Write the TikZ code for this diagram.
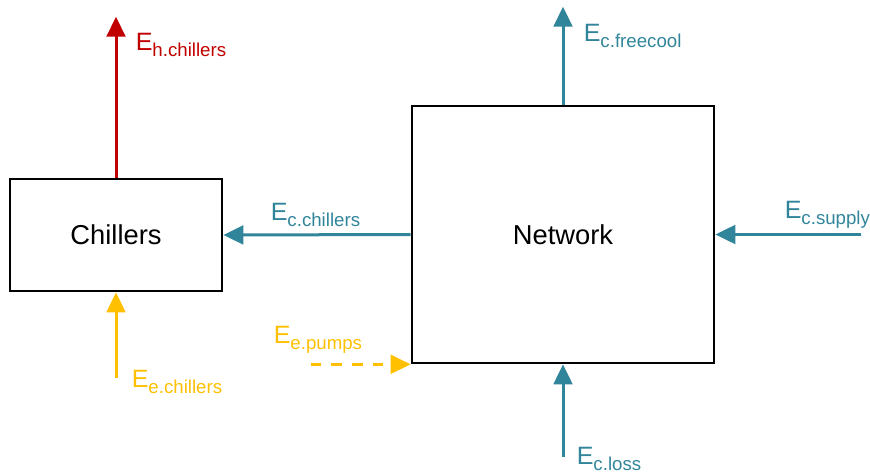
\documentclass[tikz,border=0pt]{standalone}
\usepackage{fontspec}
\setmainfont{Liberation Sans}
\usetikzlibrary{arrows.meta,positioning}
\definecolor{heat}{RGB}{192,0,0}
\definecolor{cool}{RGB}{49,133,155}
\definecolor{power}{RGB}{255,192,0}
% energy flow symbol with a lowered, smaller index
\newcommand{\flux}[1]{E\raisebox{-5pt}{\fontsize{14}{16}\selectfont #1}}
\tikzset{
  >={Triangle[length=15pt,width=14pt]},
  unit/.style={draw=black,line width=2pt,minimum width=159pt,minimum height=84pt,
    font=\fontsize{20.5}{24}\selectfont},
  flow/.style={->,line width=2.25pt,draw=#1},
  flow/.default=cool,
  tag/.style={text=#1,anchor=base west,inner sep=0pt,font=\fontsize{18.8}{22}\selectfont},
  tag/.default=cool,
}
\begin{document}
\begin{tikzpicture}[x=0.75pt,y=-0.75pt]
  \useasboundingbox (0,0) rectangle (870,475);
  % the two units
  \node[unit] (chillers) at (116,235) {Chillers};
  \node[unit,minimum width=226.5pt,minimum height=192.75pt] (network) at (563,234.5) {Network};
  % free ends of the flows
  \coordinate[above=120.75pt of chillers.north] (hout);
  \coordinate[below=64.5pt of chillers.south] (ein);
  \coordinate[above=73.5pt of network.north] (fout);
  \coordinate[right=109.5pt of network.east] (sin);
  \coordinate[below=69.75pt of network.south] (lin);
  \coordinate[left=75pt of network.south west] (pin);
  % flows
  \draw[flow=heat] (chillers.north) -- (hout);
  \draw[flow=power] (ein) -- (chillers.south);
  \draw[flow] (network.west) -- (chillers.east);
  \draw[flow] (network.north) -- (fout);
  \draw[flow] (sin) -- (network.east);
  \draw[flow] (lin) -- (network.south);
  \draw[flow=power,dash pattern=on 8pt off 7.5pt] (pin) -- (network.south west);
  % labels
  \node[tag=heat] (lh) at (135.5,50) {\flux{h.chillers}};
  \node[tag] (lf) at (583.5,41) {\flux{c.freecool}};
  \node[tag] (lcc) at (270.5,220) {\flux{c.chillers}};
  \node[tag] (ls) at (784.5,218) {\flux{c.supply}};
  \node[tag=power] (lec) at (131.5,387) {\flux{e.chillers}};
  \node[tag=power] (lep) at (273.5,343) {\flux{e.pumps}};
  \node[tag] (ll) at (576.5,464) {\flux{c.loss}};
\end{tikzpicture}
\end{document}
